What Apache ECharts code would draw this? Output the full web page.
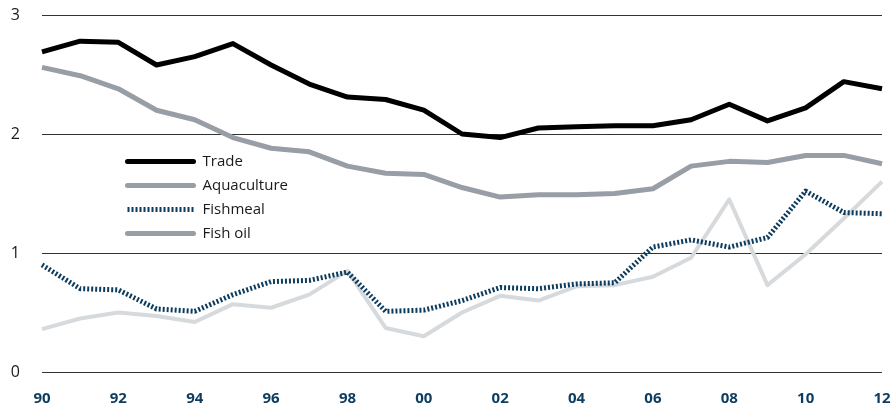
<!DOCTYPE html>
<html>
<head>
<meta charset="utf-8">
<script src="https://cdn.jsdelivr.net/npm/echarts@6/dist/echarts.min.js"></script>
<style>
  html, body { margin: 0; padding: 0; background: #fff; }
  #chart { width: 894px; height: 406px; }
</style>
</head>
<body>
<div id="chart"></div>
<script>
const years = ['90', '91', '92', '93', '94', '95', '96', '97', '98', '99', '00', '01',
  '02', '03', '04', '05', '06', '07', '08', '09', '10', '11', '12']
const trade = [2.69, 2.78, 2.77, 2.58, 2.65, 2.76, 2.58, 2.42, 2.31, 2.29, 2.20, 2.00,
  1.97, 2.05, 2.06, 2.07, 2.07, 2.12, 2.25, 2.11, 2.22, 2.44, 2.38]
const aquaculture = [2.56, 2.49, 2.38, 2.20, 2.12, 1.97, 1.88, 1.85, 1.73, 1.67, 1.66, 1.55,
  1.47, 1.49, 1.49, 1.50, 1.54, 1.73, 1.77, 1.76, 1.82, 1.82, 1.75]
const fishmeal = [0.90, 0.70, 0.69, 0.53, 0.51, 0.65, 0.76, 0.77, 0.84, 0.51, 0.52, 0.60,
  0.71, 0.70, 0.74, 0.75, 1.05, 1.11, 1.05, 1.13, 1.52, 1.34, 1.33]
const fishOil = [0.36, 0.45, 0.50, 0.47, 0.42, 0.57, 0.54, 0.65, 0.85, 0.37, 0.30, 0.50,
  0.64, 0.60, 0.72, 0.73, 0.80, 0.96, 1.45, 0.73, 0.99, 1.29, 1.60]
const seriesNames = ['Trade', 'Aquaculture', 'Fishmeal', 'Fish oil']

const myChart = echarts.init(document.getElementById('chart'))

// one helper for the four lines, only colour / width / dash differ
function lineSeries (name, data, color, width, dash) {
  return {
    name: name,
    type: 'line',
    data: data,
    symbol: 'none',
    smooth: false,
    lineStyle: { color: color, width: width, type: dash || 'solid', cap: 'butt', join: 'round' },
    itemStyle: { color: color },
    emphasis: { disabled: true }
  }
}

const option = {
  animation: false,
  textStyle: { fontFamily: 'Open Sans' },
  grid: {
    left: 42,
    right: 12,
    top: 15,
    bottom: 34
  },
  legend: {
    orient: 'vertical',
    left: 120,
    top: 149,
    itemWidth: 66,
    itemHeight: 14,
    itemGap: 9,
    itemStyle: { opacity: 0 },
    textStyle: { color: '#1a1a1a', fontSize: 15, padding: [0, 0, 0, 4] },
    data: [
      { name: seriesNames[0], lineStyle: { width: 5, cap: 'round' } },
      { name: seriesNames[1], lineStyle: { width: 5, cap: 'round' } },
      { name: seriesNames[2], lineStyle: { width: 5 } },
      { name: seriesNames[3], lineStyle: { color: '#979ea5', width: 5, cap: 'round' } }
    ]
  },
  xAxis: {
    type: 'category',
    data: years,
    boundaryGap: false,
    axisLine: { show: false },
    axisTick: { show: false },
    axisLabel: {
      interval: 1,
      margin: 19,
      color: '#0d3c5f',
      fontSize: 15,
      fontWeight: 'bold'
    }
  },
  yAxis: {
    type: 'value',
    min: 0,
    max: 3,
    interval: 1,
    axisLine: { show: false },
    axisTick: { show: false },
    axisLabel: {
      margin: 22,
      color: '#1a1a1a',
      fontSize: 16
    },
    splitLine: {
      show: true,
      lineStyle: { color: '#333', width: 1 }
    }
  },
  series: [
    lineSeries(seriesNames[3], fishOil, '#d7dadd', 4),
    lineSeries(seriesNames[2], fishmeal, '#0d3c5e', 5, [2, 2]),
    lineSeries(seriesNames[1], aquaculture, '#979ea5', 5),
    lineSeries(seriesNames[0], trade, '#000000', 5)
  ]
}
myChart.setOption(option)
</script>
</body>
</html>
